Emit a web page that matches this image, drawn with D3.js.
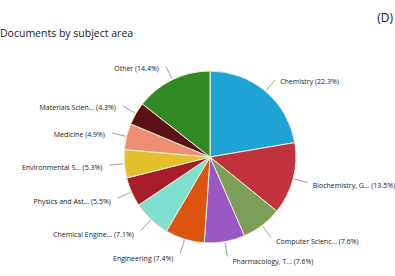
<!DOCTYPE html>
<html><head><meta charset="utf-8">
<script src="https://cdn.jsdelivr.net/npm/d3@7"></script>
<style>html,body{margin:0;padding:0;background:#fff;}svg{display:block;}</style>
</head><body>
<svg id="c" width="395" height="276"></svg>
<script>
const labels = ["Chemistry (22.3%)","Biochemistry, G... (13.5%)","Computer Scienc... (7.6%)","Pharmacology, T... (7.6%)","Engineering (7.4%)","Chemical Engine... (7.1%)","Physics and Ast... (5.5%)","Environmental S... (5.3%)","Medicine (4.9%)","Materials Scien... (4.3%)","Other (14.4%)"];
const values = [22.3,13.5,7.6,7.6,7.4,7.1,5.5,5.3,4.9,4.3,14.4];
const colors = ["#1ea3d4","#c1323e","#7c9f58","#9a58c4","#dd5410","#80e0d0","#a51d2b","#e3c12c","#ec8f72","#5b1116","#2f8a23"];

const svg = d3.select("#c");
const font = "'Open Sans', Lato, sans-serif";
svg.append("text").attr("x",0).attr("y",37).attr("font-family",font).attr("font-size",10.5).attr("fill","#222").text("Documents by subject area");
svg.append("text").attr("x",393).attr("y",22).attr("text-anchor","end").attr("font-family",font).attr("font-size",12).attr("fill","#222").text("(D)");

const cx=210, cy=157, r=86;
const g = svg.append("g").attr("transform",`translate(${cx},${cy})`);
const pie = d3.pie().sort(null).value(d=>d);
const arcs = pie(values);
const arc = d3.arc().innerRadius(0).outerRadius(r);
g.selectAll("path").data(arcs).join("path").attr("d",arc)
  .attr("fill",(d,i)=>colors[i]).attr("stroke","#f3efd6").attr("stroke-width",1);

const pt = (a,rr)=>[rr*Math.sin(a), -rr*Math.cos(a)];
arcs.forEach((d,i)=>{
  const a=(d.startAngle+d.endAngle)/2;
  const p1=pt(a,r+1), p2=pt(a,r+15);
  g.append("line").attr("x1",p1[0]).attr("y1",p1[1]).attr("x2",p2[0]).attr("y2",p2[1])
    .attr("stroke","#8a8a8a").attr("stroke-width",0.8);
  const right = Math.sin(a)>=0;
  const dy = 2 + 3*Math.max(0,-Math.cos(a));
  g.append("text").attr("x",p2[0]+(right?5:-7)).attr("y",p2[1]+dy)
    .attr("dy","0.35em").attr("text-anchor",right?"start":"end")
    .attr("font-family",font).attr("font-size",7).attr("fill","#222").text(labels[i]);
});
</script>
</body></html>
